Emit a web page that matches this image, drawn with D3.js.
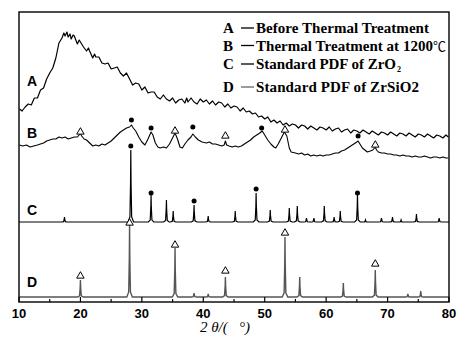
<!DOCTYPE html>
<html><head><meta charset="utf-8">
<script src="https://cdn.jsdelivr.net/npm/d3@7"></script>
<style>body{margin:0;background:#fff}svg{display:block}</style>
</head><body><svg id="c" width="457" height="344"></svg>
<script>
// ---- data ----
const xTicks = [10,20,30,40,50,60,70,80];
const xMinor = [15,25,35,45,55,65,75];
const curveLabels = ["A","B","C","D"];
const legendTexts = ["Before Thermal Treatment","Thermal Treatment at 1200","Standard PDF of ZrO","Standard PDF of ZrSiO2"];

// A: before thermal treatment (2theta, intensity stacked)
const seriesA = [[10.1,192],[10.5,190],[11.0,194],[11.5,197],[12.0,196],[12.5,203],[13.0,203],[13.5,211],[14.0,213],[14.5,222],[15.0,228],[15.5,233],[16.0,243],[16.5,258],[17.0,263],[17.3,268],[17.5,265],[17.8,269],[18.0,264],[18.3,267],[18.5,262],[18.8,266],[19.0,265],[19.5,257],[19.8,261],[20.0,259],[20.5,254],[21.0,250],[21.3,253],[21.5,250],[22.0,243],[22.3,247],[22.5,244],[23.0,244],[23.5,238],[24.0,237],[24.5,238],[25.0,232],[25.5,233],[26.0,234],[26.5,228],[27.0,225],[27.5,228],[28.0,222],[28.5,216],[29.0,218],[29.5,217],[30.0,211],[30.5,214],[31.0,208],[31.5,209],[32.0,209],[32.5,204],[33.0,202],[33.5,206],[34.0,202],[34.5,200],[35.0,203],[35.5,198],[36.0,201],[36.5,202],[37.0,198],[37.3,203],[37.5,199],[38.0,203],[38.5,199],[39.0,197],[39.5,202],[40.0,199],[40.5,201],[41.0,197],[41.5,200],[42.0,196],[42.5,199],[43.0,198],[43.5,194],[44.0,197],[44.5,193],[45.0,195],[45.5,194],[46.0,190],[46.5,193],[47.0,189],[47.5,190],[48.0,187],[48.5,188],[49.0,184],[49.5,185],[50.0,182],[50.5,184],[51.0,179],[51.5,181],[52.0,178],[52.5,180],[53.0,176],[53.5,178],[54.0,175],[54.5,177],[55.0,176],[55.5,173],[56.0,176],[56.5,175],[57.0,172],[57.5,175],[58.0,173],[58.5,171],[59.0,174],[59.5,173],[60.0,171],[60.5,174],[61.0,170],[61.5,172],[62.0,173],[62.5,169],[63.0,171],[63.5,172],[64.0,168],[64.5,171],[65.0,170],[65.5,168],[66.0,171],[66.5,169],[67.0,167],[67.5,170],[68.0,168],[68.5,166],[69.0,169],[69.5,168],[70.0,166],[70.5,169],[71.0,167],[71.5,165],[72.0,168],[72.5,167],[73.0,165],[73.5,168],[74.0,166],[74.5,164],[75.0,167],[75.5,166],[76.0,164],[76.5,167],[77.0,165],[77.5,163],[78.0,166],[78.5,165],[79.0,163],[79.5,166],[79.9,164]];

// B: thermal treatment at 1200 C
const seriesB = [[10.1,156],[10.6,155],[11.2,156],[11.8,154],[12.4,155],[13.0,156],[13.5,157],[14.0,158],[14.5,160],[15.0,161],[15.5,162],[16.0,162],[16.5,164],[17.0,163],[17.5,164],[18.0,162],[18.5,163],[19.0,164],[19.5,164],[19.8,166],[20.0,168],[20.2,165],[20.6,162],[21.0,161],[21.5,158],[22.0,155],[22.5,156],[23.0,155],[23.5,157],[24.0,156],[24.5,158],[25.0,160],[25.5,163],[26.0,166],[26.5,169],[27.0,171],[27.5,173],[28.0,174],[28.3,176],[28.6,173],[29.0,170],[29.5,164],[30.0,159],[30.5,156],[31.0,162],[31.5,169],[31.8,166],[32.2,158],[32.6,154],[33.0,153],[33.5,154],[34.0,153],[34.5,157],[35.0,163],[35.4,168],[35.8,162],[36.2,154],[36.6,153],[37.0,157],[37.5,161],[38.0,164],[38.3,167],[38.7,164],[39.2,161],[39.8,159],[40.5,158],[41.0,159],[41.5,157],[42.0,157],[42.5,156],[43.0,155],[43.4,156],[43.6,160],[43.8,156],[44.2,155],[44.7,154],[45.2,155],[45.7,154],[46.2,155],[46.7,157],[47.2,159],[47.7,161],[48.2,164],[48.7,166],[49.2,168],[49.6,170],[50.0,166],[50.5,161],[51.0,157],[51.5,154],[51.8,153],[52.2,157],[52.7,163],[53.2,169],[53.6,165],[54.0,153],[54.3,149],[55.0,148],[55.5,147],[56.0,148],[56.5,146],[57.0,147],[57.5,145],[58.0,146],[58.5,145],[59.0,146],[59.5,145],[60.0,146],[60.5,146],[61.0,147],[61.5,148],[62.0,148],[62.5,150],[63.0,151],[63.5,153],[64.0,155],[64.5,157],[65.0,159],[65.2,160],[65.5,157],[65.9,153],[66.3,151],[66.7,149],[67.2,150],[67.6,151],[68.0,154],[68.2,151],[68.5,149],[69.0,148],[69.5,148],[70.0,147],[70.5,147],[71.0,146],[71.5,146],[72.0,145],[72.5,146],[73.0,145],[73.5,145],[74.0,144],[74.5,145],[75.0,144],[75.5,144],[76.0,145],[76.5,144],[77.0,143],[77.5,144],[78.0,144],[78.5,143],[79.0,144],[79.5,143],[79.9,143]];

// C: standard PDF of ZrO2 (peak position, peak height above baseline)
const baseC = 79;
const peaksC = [[17.4,5],[28.2,72],[31.5,27],[34.0,22],[35.1,11],[38.5,17],[40.8,6],[45.2,11],[48.6,29],[50.9,12],[54.0,14],[55.3,16],[56.8,4],[58.0,4],[59.7,16],[61.3,5],[62.3,11],[65.1,28],[66.4,2],[69.0,4],[70.8,5],[72.2,2],[74.7,8],[78.4,4]];
// D: standard PDF of ZrSiO2
const baseD = 4;
const peaksD = [[20.0,17],[28.0,72],[35.4,49],[38.5,4],[40.8,3],[43.6,20],[53.3,60],[55.7,20],[62.8,14],[68.0,27],[73.3,3],[75.4,6]];

// phase markers: filled circle = ZrO2, open triangle = ZrSiO2
const dotsB = [[28.3,181],[31.5,173],[38.3,174],[49.5,173],[65.2,165]];
const trisB = [[20.0,169],[35.4,170],[43.6,165],[53.3,171],[68.0,156]];
const dotsC = [[28.2,155],[31.5,108],[38.5,100],[48.6,112],[65.1,108]];
const trisD = [[20.0,25],[28.0,78],[35.4,56],[43.6,30],[53.3,68],[68.0,37]];

// ---- drawing ----
const svg = d3.select("#c");
const x = d3.scaleLinear().domain([10,80]).range([19,449]);
const y = d3.scaleLinear().domain([-1,289]).range([302,12]);
const line = d3.line().x(d=>x(d[0])).y(d=>y(d[1]));

function stickProfile(peaks, base){
  const pts = [[10,base]];
  peaks.slice().sort((a,b)=>a[0]-b[0]).forEach(([p,h])=>{
    pts.push([p-0.45,base],[p-0.14,base+h*0.07],[p-0.04,base+h*0.55],[p,base+h],[p+0.04,base+h*0.55],[p+0.14,base+h*0.07],[p+0.45,base]);
  });
  pts.push([80,base]);
  return pts;
}

svg.append("path").attr("d",line(seriesA)).attr("fill","none").attr("stroke","#000").attr("stroke-width",1.2).attr("stroke-linejoin","round");
svg.append("path").attr("d",line(seriesB)).attr("fill","none").attr("stroke","#000").attr("stroke-width",1.1).attr("stroke-linejoin","round");
svg.append("path").attr("d",line(stickProfile(peaksC,baseC))).attr("fill","none").attr("stroke","#000").attr("stroke-width",1.2);
svg.append("path").attr("d",line(stickProfile(peaksD,baseD))).attr("fill","none").attr("stroke","#555").attr("stroke-width",1.4);

const tri = d3.symbol(d3.symbolTriangle, 24);
function drawDots(arr){ svg.append("g").selectAll("circle").data(arr).join("circle").attr("cx",d=>x(d[0])).attr("cy",d=>y(d[1])).attr("r",2.5).attr("fill","#000"); }
function drawTris(arr){ svg.append("g").selectAll("path").data(arr).join("path").attr("d",tri).attr("transform",d=>`translate(${x(d[0])},${y(d[1])})`).attr("fill","#fff").attr("stroke","#000").attr("stroke-width",1); }
drawDots(dotsB); drawTris(trisB); drawDots(dotsC); drawTris(trisD);

// frame
const [x0,x1] = x.range(); const [yb,yt] = y.range();
svg.append("rect").attr("x",x0).attr("y",yt).attr("width",x1-x0).attr("height",yb-yt).attr("fill","none").attr("stroke","#000").attr("stroke-width",1.4);
// bottom ticks (inward)
const tg = svg.append("g");
tg.selectAll("line.maj").data(xTicks).join("line").attr("x1",d=>x(d)).attr("x2",d=>x(d)).attr("y1",yb).attr("y2",yb-5).attr("stroke","#000").attr("stroke-width",1.2);
tg.selectAll("line.min").data(xMinor).join("line").attr("x1",d=>x(d)).attr("x2",d=>x(d)).attr("y1",yb).attr("y2",yb-3).attr("stroke","#000").attr("stroke-width",1.2);
tg.selectAll("text").data(xTicks).join("text").attr("x",d=>x(d)).attr("y",318).attr("text-anchor","middle")
  .attr("font-family","Liberation Sans, Arial, sans-serif").attr("font-weight","bold").attr("font-size",13).text(d=>d);

// axis title
const t = svg.append("text").attr("x",200).attr("y",332).attr("font-family","Liberation Serif, Times New Roman, serif").attr("font-style","italic").attr("font-size",15).style("white-space","pre");
t.text("2 \u03B8/(   \u00B0)");

// curve labels
const labY = [86,138,215,287];
svg.append("g").selectAll("text").data(curveLabels).join("text").attr("x",27).attr("y",(d,i)=>labY[i])
  .attr("font-family","Liberation Sans, Arial, sans-serif").attr("font-weight","bold").attr("font-size",14).text(d=>d);

// legend
const legY = [33,50.5,69,92];
const legW = [173,177,140,163];
const lg = svg.append("g").attr("font-family","Liberation Serif, Times New Roman, serif").attr("font-weight","bold").attr("font-size",15);
lg.selectAll("text.k").data(curveLabels).join("text").attr("x",223).attr("y",(d,i)=>legY[i]).text(d=>d);
lg.selectAll("line").data(curveLabels).join("line").attr("x1",241).attr("x2",254).attr("y1",(d,i)=>legY[i]-5).attr("y2",(d,i)=>legY[i]-5)
  .attr("stroke",(d,i)=>i===3?"#666":"#000").attr("stroke-width",1.3);
lg.selectAll("text.v").data(legendTexts).join("text").attr("x",256).attr("y",(d,i)=>legY[i])
  .attr("textLength",(d,i)=>legW[i]).attr("lengthAdjust","spacing").text(d=>d);
// unit / subscript pieces
lg.append("text").attr("x",433).attr("y",legY[1]).attr("font-weight","normal").attr("font-size",13)
  .attr("font-family","Noto Sans CJK SC, DejaVu Sans, sans-serif").attr("textLength",13).attr("lengthAdjust","spacingAndGlyphs").text("\u2103");
lg.append("text").attr("x",397).attr("y",legY[2]+3).attr("font-size",8).text("2");
</script></body></html>
